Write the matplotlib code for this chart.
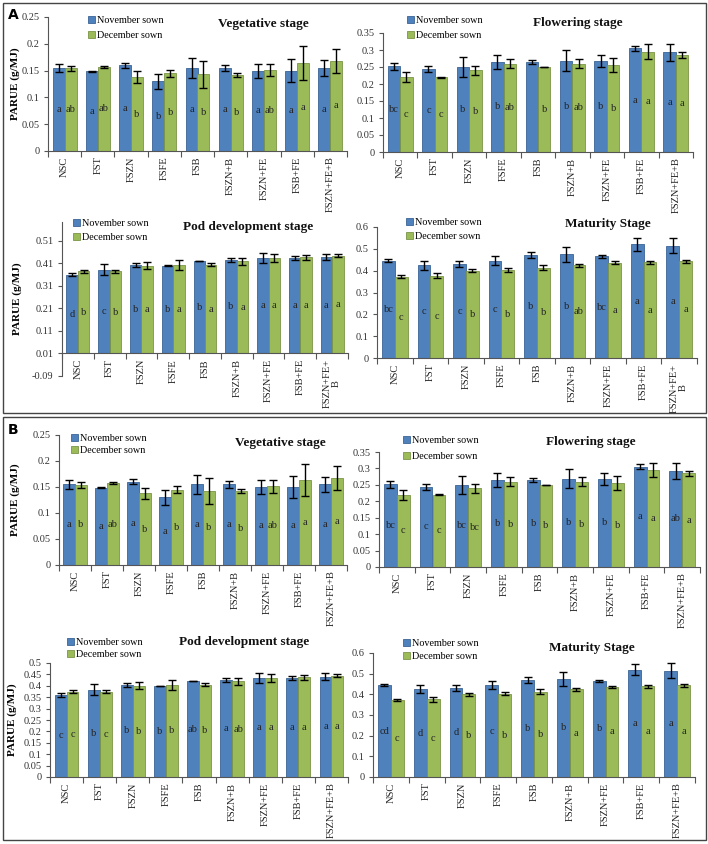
import matplotlib
matplotlib.use('Agg')
import matplotlib.pyplot as plt
from matplotlib.patches import Rectangle
import numpy as np

plt.rcParams['font.family'] = ['Liberation Serif', 'DejaVu Serif']

W, H = 708, 844

# treatments
cats = ['NSC', 'FST', 'FSZN', 'FSFE', 'FSB', 'FSZN+B', 'FSZN+FE', 'FSB+FE', 'FSZN+FE+B']
cats_wrap = cats[:-1] + ['FSZN+FE+\nB']

# PARUE values (same in both panels)
veg_nov = [0.155, 0.149, 0.160, 0.130, 0.155, 0.155, 0.150, 0.150, 0.155]
veg_nov_err = [0.008, 0.001, 0.005, 0.014, 0.018, 0.006, 0.013, 0.022, 0.015]
veg_dec = [0.154, 0.157, 0.138, 0.145, 0.143, 0.142, 0.151, 0.164, 0.168]
veg_dec_err = [0.005, 0.002, 0.011, 0.007, 0.025, 0.004, 0.012, 0.031, 0.023]

flo_nov = [0.252, 0.244, 0.250, 0.265, 0.265, 0.269, 0.268, 0.305, 0.293]
flo_nov_err = [0.011, 0.009, 0.028, 0.021, 0.007, 0.030, 0.018, 0.007, 0.024]
flo_dec = [0.220, 0.220, 0.240, 0.260, 0.250, 0.260, 0.255, 0.295, 0.285]
flo_dec_err = [0.015, 0.001, 0.014, 0.014, 0.001, 0.014, 0.021, 0.022, 0.008]

pod_nov = [0.360, 0.383, 0.405, 0.400, 0.420, 0.425, 0.435, 0.435, 0.440]
pod_nov_err = [0.007, 0.023, 0.009, 0.001, 0.001, 0.008, 0.022, 0.008, 0.014]
pod_dec = [0.375, 0.375, 0.400, 0.405, 0.405, 0.420, 0.433, 0.437, 0.445]
pod_dec_err = [0.007, 0.007, 0.015, 0.022, 0.008, 0.015, 0.018, 0.010, 0.007]

mat_nov = [0.445, 0.425, 0.430, 0.445, 0.470, 0.475, 0.465, 0.520, 0.515]
mat_nov_err = [0.007, 0.020, 0.014, 0.021, 0.014, 0.035, 0.006, 0.028, 0.035]
mat_dec = [0.373, 0.377, 0.400, 0.403, 0.413, 0.425, 0.437, 0.438, 0.443]
mat_dec_err = [0.006, 0.012, 0.007, 0.007, 0.011, 0.007, 0.005, 0.007, 0.007]

# significance letters
A_veg_nov = ['a', 'a', 'a', 'b', 'a', 'a', 'a', 'a', 'a']
A_veg_dec = ['ab', 'ab', 'b', 'b', 'b', 'b', 'ab', 'a', 'a']
A_flo_nov = ['bc', 'c', 'b', 'b', '', 'b', 'b', 'a', 'a']
A_flo_dec = ['c', 'c', 'b', 'ab', 'b', 'ab', 'b', 'a', 'a']
A_pod_nov = ['d', 'c', 'b', 'b', 'b', 'b', 'a', 'a', 'a']
A_pod_dec = ['b', 'b', 'a', 'a', 'a', 'a', 'a', 'a', 'a']
A_mat_nov = ['bc', 'c', 'c', 'c', 'b', 'b', 'bc', 'a', 'a']
A_mat_dec = ['c', 'c', 'b', 'b', 'b', 'ab', 'a', 'a', 'a']

B_veg_nov = ['a', 'a', 'a', 'a', 'a', 'a', 'a', 'a', 'a']
B_veg_dec = ['b', 'ab', 'b', 'b', 'b', 'b', 'ab', 'a', 'a']
B_flo_nov = ['bc', 'c', 'bc', 'b', 'b', 'b', 'b', 'a', 'ab']
B_flo_dec = ['c', 'c', 'bc', 'b', 'b', 'b', 'b', 'a', 'a']
B_pod_nov = ['c', 'b', 'b', 'b', 'ab', 'a', 'a', 'a', 'a']
B_pod_dec = ['c', 'c', 'b', 'b', 'b', 'ab', 'a', 'a', 'a']
B_mat_nov = ['cd', 'd', 'd', 'c', 'b', 'b', 'b', 'a', 'a']
B_mat_dec = ['c', 'c', 'b', 'b', 'b', 'a', 'a', 'a', 'a']

BLUE, BLUE_E = '#4F81BD', '#3A6496'
GREEN, GREEN_E = '#9BBB59', '#7A9446'
FS = 7.5

fig = plt.figure(figsize=(W / 100, H / 100), dpi=100)


def px_axes(left, top, right, bottom):
    return fig.add_axes([left / W, 1 - bottom / H, (right - left) / W, (bottom - top) / H])


def draw(box, ylim, ticks, tick_fmt, nov, nov_err, dec, dec_err, let_nov, let_dec,
         title, title_xy, leg, labels, ylabel_x=None, base=0.0):
    ax = px_axes(*box)
    # spine position must be set before tick styling (it resets the ticks)
    for s in ['top', 'right']:
        ax.spines[s].set_visible(False)
    for s in ['left', 'bottom']:
        ax.spines[s].set_color('#555555')
        ax.spines[s].set_linewidth(0.8)
    if base != 0.0:
        ax.spines['bottom'].set_position(('data', base))

    x = np.arange(len(cats))
    w = 0.36
    nov_h = np.array(nov) - base
    dec_h = np.array(dec) - base
    ax.bar(x - w / 2, nov_h, w, bottom=base, color=BLUE, edgecolor=BLUE_E, lw=0.6,
           label='November sown', zorder=2)
    ax.bar(x + w / 2, dec_h, w, bottom=base, color=GREEN, edgecolor=GREEN_E, lw=0.6,
           label='December sown', zorder=2)
    ax.errorbar(x - w / 2, nov, yerr=nov_err, fmt='none', ecolor='black', elinewidth=1,
                capsize=3, capthick=1, zorder=3)
    ax.errorbar(x + w / 2, dec, yerr=dec_err, fmt='none', ecolor='black', elinewidth=1,
                capsize=3, capthick=1, zorder=3)
    for i in range(len(cats)):
        ax.text(x[i] - w / 2, (base + nov[i]) / 2, let_nov[i], ha='center', va='center',
                fontsize=FS, color='#222222', zorder=4)
        ax.text(x[i] + w / 2, (base + dec[i]) / 2, let_dec[i], ha='center', va='center',
                fontsize=FS, color='#222222', zorder=4)

    ax.set_xlim(-0.5, len(cats) - 0.5)
    ax.set_ylim(*ylim)
    ax.set_yticks(ticks)
    ax.set_yticklabels([tick_fmt(t) for t in ticks], fontsize=FS, color='#333333')
    ax.set_xticks(x)
    ax.set_xticklabels(labels, rotation=90, fontsize=FS, color='#222222', linespacing=1.0)
    ax.set_xticks(np.arange(len(cats) + 1) - 0.5, minor=True)
    ax.tick_params(axis='x', which='major', length=0, pad=4)
    ax.tick_params(axis='x', which='minor', length=4, color='#555555', width=0.8)
    ax.tick_params(axis='y', length=3, color='#555555', width=0.8, pad=3)

    ax.text(title_xy[0], title_xy[1], title, transform=ax.transAxes, ha='center',
            va='center', fontsize=9.5, fontweight='bold', color='#111111')

    lx, ly1, ly2 = leg
    spacing = (ly2 - ly1) / (7.3 * 100 / 72) - 1.0
    ax.legend(loc='upper left', bbox_to_anchor=(lx / W, 1 - (ly1 - 6) / H),
              bbox_transform=fig.transFigure, frameon=False, fontsize=7.3,
              handlelength=0.7, handleheight=0.7, handletextpad=0.2,
              labelspacing=max(spacing, 0.1), borderaxespad=0, borderpad=0)

    if ylabel_x is not None:
        fig.text(ylabel_x / W, 1 - ((box[1] + box[3]) / 2) / H, 'PARUE (g/MJ)',
                 rotation=90, ha='center', va='center', fontsize=8,
                 fontweight='bold')
    return ax


f2 = lambda t: ('%.2f' % t).rstrip('0').rstrip('.') if t != 0 else '0'
fpod = lambda t: '%.2f' % t

# ----- Panel A -----
draw((48, 17, 347, 151), (0, 0.25), np.arange(0, 0.2501, 0.05), f2,
     veg_nov, veg_nov_err, veg_dec, veg_dec_err, A_veg_nov, A_veg_dec,
     'Vegetative stage', (0.72, 0.95), (88, 22, 38), cats, ylabel_x=15)
draw((383, 33, 693, 152), (0, 0.35), np.arange(0, 0.3501, 0.05), f2,
     flo_nov, flo_nov_err, flo_dec, flo_dec_err, A_flo_nov, A_flo_dec,
     'Flowering stage', (0.63, 1.08), (407, 22, 38), cats)
draw((62, 222, 348, 376), (-0.09, 0.594), np.arange(-0.09, 0.511, 0.1), fpod,
     pod_nov, pod_nov_err, pod_dec, pod_dec_err, A_pod_nov, A_pod_dec,
     'Pod development stage', (0.65, 0.97), (73, 225, 240), cats_wrap, ylabel_x=17,
     base=0.01)
draw((377, 227, 697, 358), (0, 0.6), np.arange(0, 0.601, 0.1), f2,
     mat_nov, mat_nov_err, mat_dec, mat_dec_err, A_mat_nov, A_mat_dec,
     'Maturity Stage', (0.72, 1.02), (406, 224, 239), cats_wrap)

# ----- Panel B -----
draw((59, 435, 347, 565), (0, 0.25), np.arange(0, 0.2501, 0.05), f2,
     veg_nov, veg_nov_err, veg_dec, veg_dec_err, B_veg_nov, B_veg_dec,
     'Vegetative stage', (0.77, 0.94), (71, 440, 453), cats, ylabel_x=15)
draw((379, 452, 700, 567), (0, 0.35), np.arange(0, 0.3501, 0.05), f2,
     flo_nov, flo_nov_err, flo_dec, flo_dec_err, B_flo_nov, B_flo_dec,
     'Flowering stage', (0.66, 1.09), (403, 442, 459), cats)
draw((50, 663, 348, 777), (0, 0.5), np.arange(0, 0.501, 0.05), f2,
     pod_nov, pod_nov_err, pod_dec, pod_dec_err, B_pod_nov, B_pod_dec,
     'Pod development stage', (0.65, 1.18), (67, 644, 657), cats, ylabel_x=12)
draw((373, 653, 695, 777), (0, 0.6), np.arange(0, 0.601, 0.1), f2,
     mat_nov, mat_nov_err, mat_dec, mat_dec_err, B_mat_nov, B_mat_dec,
     'Maturity Stage', (0.68, 1.04), (403, 645, 659), cats)

# panel frames and letters
for (l, t, r, b) in [(3, 3, 706, 413), (3, 417, 706, 840)]:
    fig.patches.append(Rectangle((l / W, 1 - b / H), (r - l) / W, (b - t) / H,
                                 transform=fig.transFigure, fill=False,
                                 edgecolor='#444444', lw=1.0))
fig.text(13 / W, 1 - 15 / H, 'A', fontsize=10, fontweight='bold', family='DejaVu Sans',
         ha='center', va='center')
fig.text(13 / W, 1 - 430 / H, 'B', fontsize=10, fontweight='bold', family='DejaVu Sans',
         ha='center', va='center')

fig.savefig('out.png', dpi=100)
